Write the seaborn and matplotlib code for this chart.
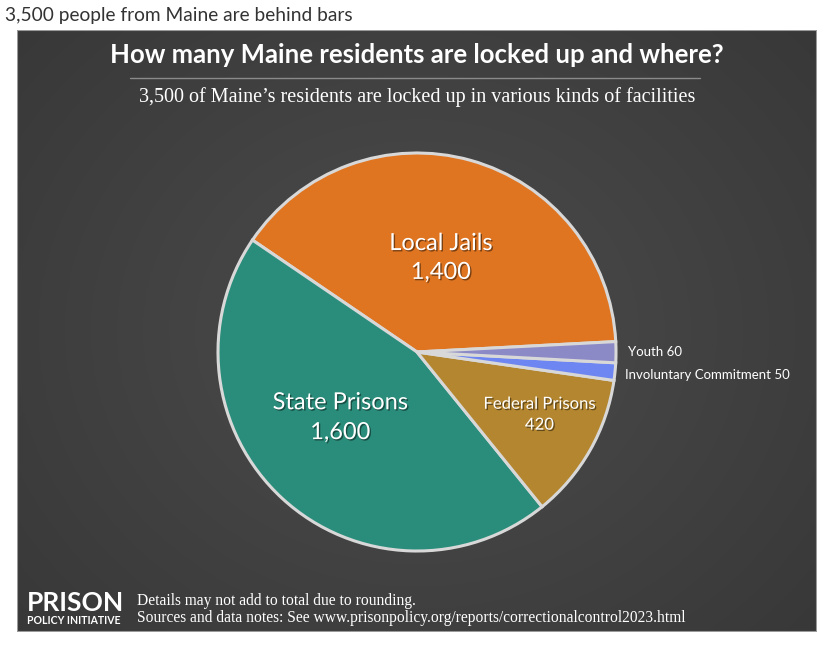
import numpy as np
import seaborn as sns
import matplotlib.pyplot as plt
import matplotlib.patheffects as pe
from matplotlib.patches import Rectangle

# data
categories = ["Local Jails", "State Prisons", "Federal Prisons", "Involuntary Commitment", "Youth"]
counts = [1400, 1600, 420, 50, 60]
count_labels = ["1,400", "1,600", "420", "50", "60"]
colors = ["#E07521", "#2A8D7B", "#B4862F", "#6E86F2", "#8B89C6"]

sns.set_style("white")
plt.rcParams['font.family'] = ['Lato', 'DejaVu Sans']

W, H = 825, 653
fig = plt.figure(figsize=(W / 100, H / 100), dpi=100, facecolor="white")

# dark panel with soft radial gradient
px0, px1, py0, py1 = 17, 817, 30, 632
bg = fig.add_axes([px0 / W, 1 - py1 / H, (px1 - px0) / W, (py1 - py0) / H])
yy, xx = np.mgrid[0:1:300j, 0:1:400j]
d = np.sqrt(((xx - 0.5) / 0.75) ** 2 + ((yy - 0.5) / 0.85) ** 2)
shade = 0.30 - 0.09 * np.clip(d, 0, 1)
bg.imshow(np.dstack([shade] * 3), extent=[0, 1, 0, 1], aspect="auto", origin="lower")
bg.add_patch(Rectangle((0, 0), 1, 1, transform=bg.transAxes, fill=False,
                       ec="#9a9a9a", lw=1.5))
bg.set_axis_off()

# pie
cx, cy, r = 417, 352, 200
ax = fig.add_axes([(cx - r) / W, (H - cy - r) / H, 2 * r / W, 2 * r / H])
wedges, _ = ax.pie(counts, colors=colors, startangle=3, counterclock=True,
                   wedgeprops=dict(edgecolor="#d8d8d8", linewidth=2.2))
ax.set_xlim(-1.005, 1.005)
ax.set_ylim(-1.005, 1.005)
ax.set_axis_off()

shadow = [pe.withSimplePatchShadow(offset=(1, -1), shadow_rgbFace="black", alpha=0.45)]
big = [(0, 0.12, 0.545, 0.40, 17), (1, -0.385, -0.255, -0.405, 17), (2, 0.615, -0.26, -0.365, 12)]
for i, x, y1, y2, fs in big:
    ax.text(x, y1, categories[i], color="white", fontsize=fs, ha="center", va="center",
            path_effects=shadow)
    ax.text(x, y2, count_labels[i], color="white", fontsize=fs, ha="center", va="center",
            path_effects=shadow)
ax.text(1.06, 0.0, f"{categories[4]} {count_labels[4]}", color="white", fontsize=9.5,
        ha="left", va="center")
ax.text(1.045, -0.115, f"{categories[3]} {count_labels[3]}", color="white", fontsize=9.5,
        ha="left", va="center")

# titles
fig.text(5 / W, 1 - 15 / H, "3,500 people from Maine are behind bars", color="#333333",
         fontsize=13.8, ha="left", va="center")
fig.text(417 / W, 1 - 55 / H, "How many Maine residents are locked up and where?",
         color="white", fontsize=18.5, fontweight="bold", ha="center", va="center")
fig.add_artist(plt.Line2D([130 / W, 700 / W], [1 - 78 / H] * 2, color="#8a8a8a", lw=1))
fig.text(417 / W, 1 - 97 / H, "3,500 of Maine\u2019s residents are locked up in various kinds of facilities",
         color="white", fontsize=14.5, family="Liberation Serif", ha="center", va="center")

# footer
fig.text(27 / W, 1 - 603 / H, "PRISON", color="white", fontsize=19, fontweight="bold",
         ha="left", va="center")
fig.text(27 / W, 1 - 620 / H, "POLICY INITIATIVE", color="white", fontsize=7.6,
         fontweight="bold", ha="left", va="center")
fig.text(137 / W, 1 - 601 / H, "Details may not add to total due to rounding.",
         color="white", fontsize=11.2, family="Liberation Serif", ha="left", va="center")
fig.text(137 / W, 1 - 618 / H,
         "Sources and data notes: See www.prisonpolicy.org/reports/correctionalcontrol2023.html",
         color="white", fontsize=11.2, family="Liberation Serif", ha="left", va="center")

fig.savefig("out.png", dpi=100, facecolor="white")
